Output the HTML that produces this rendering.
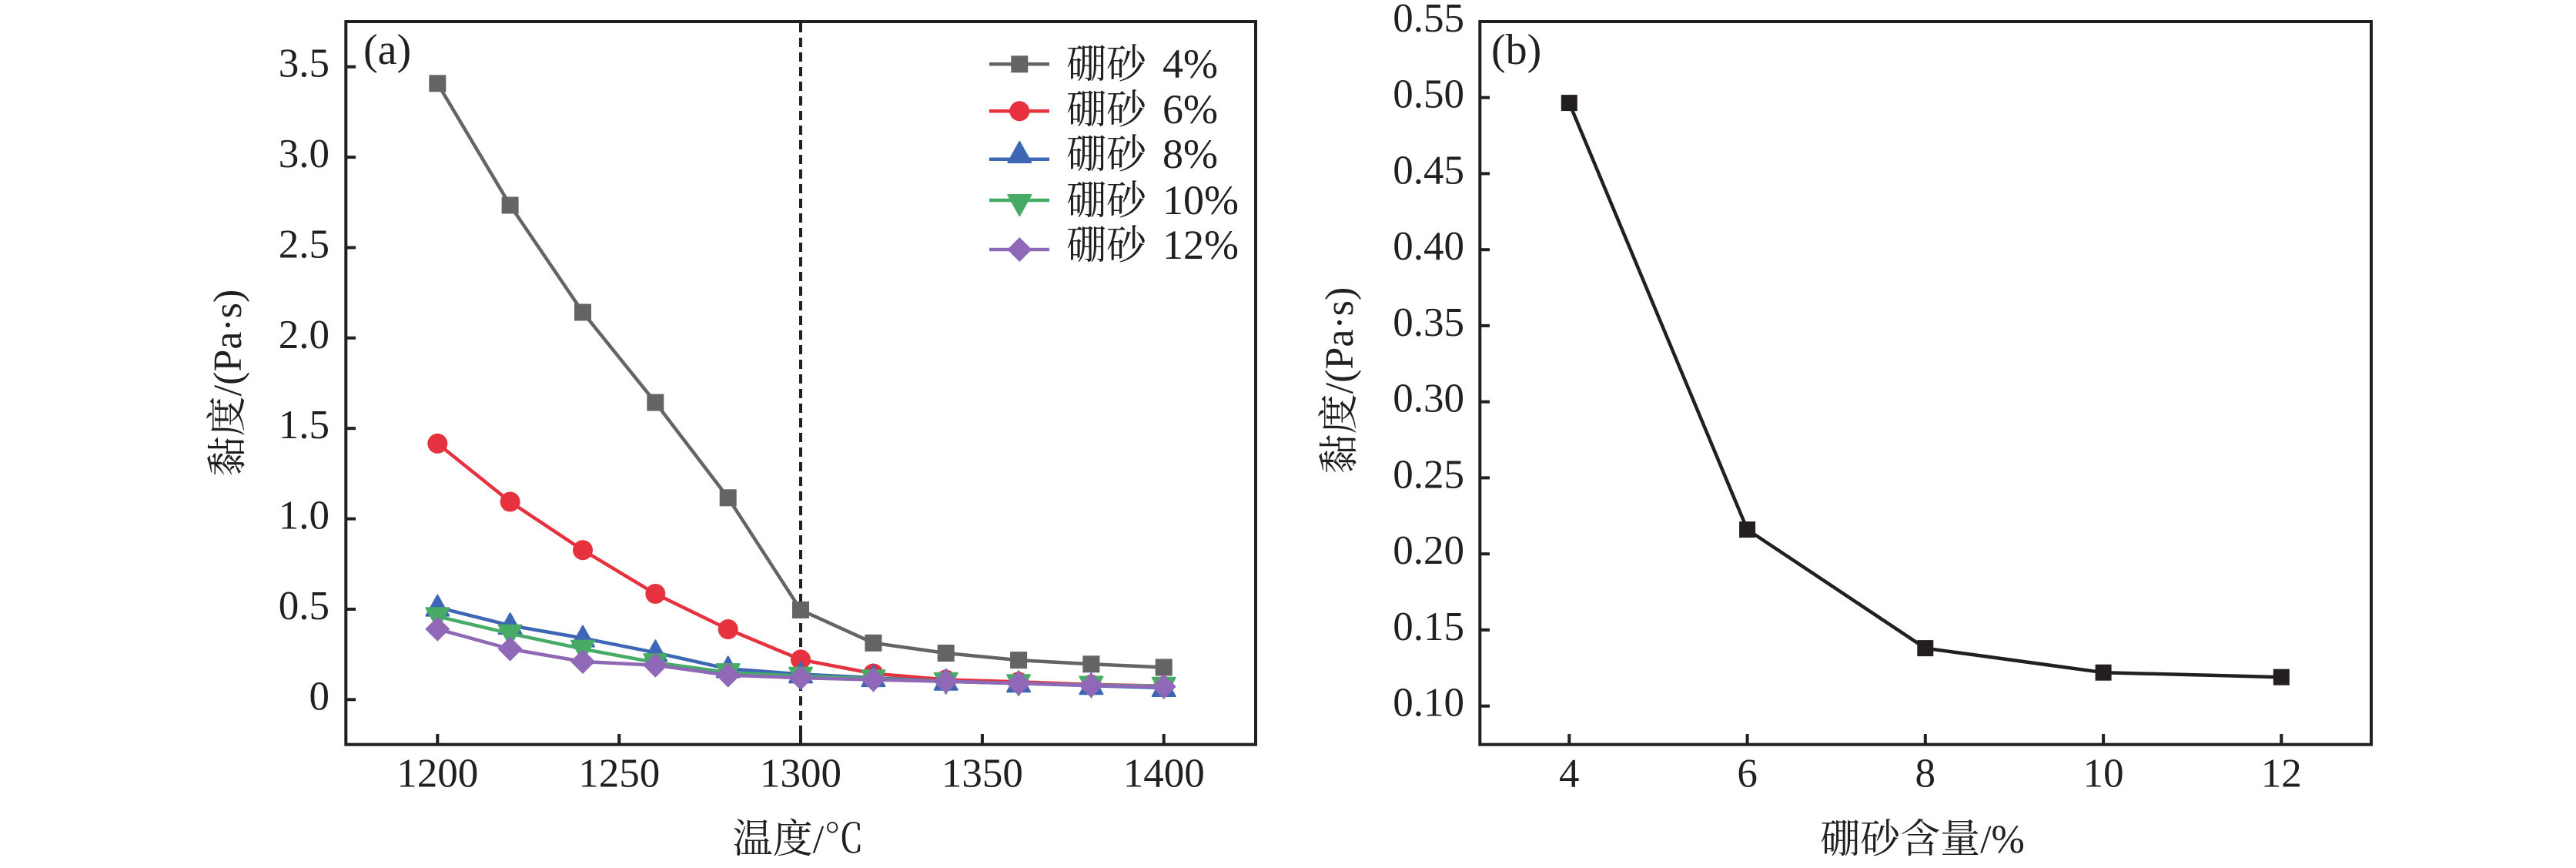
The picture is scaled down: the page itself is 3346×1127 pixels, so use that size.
<!DOCTYPE html>
<html>
<head>
<meta charset="utf-8">
<style>
html,body{margin:0;padding:0;background:#fff;}
svg{display:block;}
.t{font-family:"Liberation Serif","Noto Serif CJK SC",serif;fill:#231f20;}
.cj{font-family:"Liberation Serif","Noto Serif CJK SC",serif;fill:#231f20;}
</style>
</head>
<body>
<svg width="3346" height="1127" viewBox="0 0 3346 1127" xmlns="http://www.w3.org/2000/svg">
<rect x="0" y="0" width="3346" height="1127" fill="#fff"/>
<defs>
  <rect id="sq4" x="-11" y="-11" width="22" height="22" fill="#646464"/>
  <circle id="c6" cx="0" cy="0" r="13" fill="#e5323e"/>
  <polygon id="t8" points="0,-16 15,11 -15,11" fill="#3d66b5" stroke="#3d66b5" stroke-width="2" stroke-linejoin="round"/>
  <polygon id="t10" points="-15,-11 15,-11 0,16" fill="#47ab66" stroke="#47ab66" stroke-width="2" stroke-linejoin="round"/>
  <polygon id="d12" points="0,-16 16,0 0,16 -16,0" fill="#8f68b7"/>
  <rect id="sqb" x="-10.5" y="-10.5" width="21" height="21" fill="#231f20"/>
</defs>

<!-- ================= Plot (a) ================= -->
<line x1="1040" y1="30" x2="1040" y2="965" stroke="#231f20" stroke-width="4" stroke-dasharray="12 7"/>

<polyline fill="none" stroke="#646464" stroke-width="4.5" stroke-linejoin="round"
 points="568.3,108.3 662.6,266.5 757.0,405.5 851.3,522.6 945.7,646.3 1040.0,791.9 1134.4,834.8 1228.7,848.0 1323.1,857.1 1417.4,862.3 1511.7,866.5"/>
<use href="#sq4" x="568.3" y="108.3"/><use href="#sq4" x="662.6" y="266.5"/><use href="#sq4" x="757.0" y="405.5"/><use href="#sq4" x="851.3" y="522.6"/><use href="#sq4" x="945.7" y="646.3"/><use href="#sq4" x="1040.0" y="791.9"/><use href="#sq4" x="1134.4" y="834.8"/><use href="#sq4" x="1228.7" y="848.0"/><use href="#sq4" x="1323.1" y="857.1"/><use href="#sq4" x="1417.4" y="862.3"/><use href="#sq4" x="1511.7" y="866.5"/>

<polyline fill="none" stroke="#e5323e" stroke-width="4.5" stroke-linejoin="round"
 points="568.3,575.9 662.6,651.5 757.0,714.2 851.3,771.0 945.7,817.0 1040.0,856.4 1134.4,874.5 1228.7,882.5 1323.1,885.3 1417.4,888.8 1511.7,890.7"/>
<use href="#c6" x="568.3" y="575.9"/><use href="#c6" x="662.6" y="651.5"/><use href="#c6" x="757.0" y="714.2"/><use href="#c6" x="851.3" y="771.0"/><use href="#c6" x="945.7" y="817.0"/><use href="#c6" x="1040.0" y="856.4"/><use href="#c6" x="1134.4" y="874.5"/><use href="#c6" x="1228.7" y="882.5"/><use href="#c6" x="1323.1" y="885.3"/><use href="#c6" x="1417.4" y="888.8"/><use href="#c6" x="1511.7" y="890.7"/>

<polyline fill="none" stroke="#3d66b5" stroke-width="4.5" stroke-linejoin="round"
 points="568.3,788.6 662.6,812.1 757.0,828.5 851.3,847.3 945.7,868.4 1040.0,875.4 1134.4,880.1 1228.7,884.8 1323.1,887.2 1417.4,890.2 1511.7,893.0"/>
<use href="#t8" x="568.3" y="788.6"/><use href="#t8" x="662.6" y="812.1"/><use href="#t8" x="757.0" y="828.5"/><use href="#t8" x="851.3" y="847.3"/><use href="#t8" x="945.7" y="868.4"/><use href="#t8" x="1040.0" y="875.4"/><use href="#t8" x="1134.4" y="880.1"/><use href="#t8" x="1228.7" y="884.8"/><use href="#t8" x="1323.1" y="887.2"/><use href="#t8" x="1417.4" y="890.2"/><use href="#t8" x="1511.7" y="893.0"/>

<polyline fill="none" stroke="#47ab66" stroke-width="4.5" stroke-linejoin="round"
 points="568.3,800.3 662.6,822.6 757.0,842.6 851.3,860.2 945.7,873.1 1040.0,877.8 1134.4,881.3 1228.7,884.8 1323.1,887.2 1417.4,889.5 1511.7,890.7"/>
<use href="#t10" x="568.3" y="800.3"/><use href="#t10" x="662.6" y="822.6"/><use href="#t10" x="757.0" y="842.6"/><use href="#t10" x="851.3" y="860.2"/><use href="#t10" x="945.7" y="873.1"/><use href="#t10" x="1040.0" y="877.8"/><use href="#t10" x="1134.4" y="881.3"/><use href="#t10" x="1228.7" y="884.8"/><use href="#t10" x="1323.1" y="887.2"/><use href="#t10" x="1417.4" y="889.5"/><use href="#t10" x="1511.7" y="890.7"/>

<polyline fill="none" stroke="#8f68b7" stroke-width="4.5" stroke-linejoin="round"
 points="568.3,816.8 662.6,842.6 757.0,859.0 851.3,863.7 945.7,876.6 1040.0,880.1 1134.4,882.5 1228.7,884.8 1323.1,887.2 1417.4,890.0 1511.7,891.6"/>
<use href="#d12" x="568.3" y="816.8"/><use href="#d12" x="662.6" y="842.6"/><use href="#d12" x="757.0" y="859.0"/><use href="#d12" x="851.3" y="863.7"/><use href="#d12" x="945.7" y="876.6"/><use href="#d12" x="1040.0" y="880.1"/><use href="#d12" x="1134.4" y="882.5"/><use href="#d12" x="1228.7" y="884.8"/><use href="#d12" x="1323.1" y="887.2"/><use href="#d12" x="1417.4" y="890.0"/><use href="#d12" x="1511.7" y="891.6"/>

<rect x="449.3" y="28" width="1181.7" height="938.7" fill="none" stroke="#231f20" stroke-width="4"/>
<g stroke="#231f20" stroke-width="4">
  <line x1="449" y1="908.3" x2="462" y2="908.3"/>
  <line x1="449" y1="791.0" x2="462" y2="791.0"/>
  <line x1="449" y1="673.6" x2="462" y2="673.6"/>
  <line x1="449" y1="556.2" x2="462" y2="556.2"/>
  <line x1="449" y1="438.8" x2="462" y2="438.8"/>
  <line x1="449" y1="321.5" x2="462" y2="321.5"/>
  <line x1="449" y1="204.1" x2="462" y2="204.1"/>
  <line x1="449" y1="86.7" x2="462" y2="86.7"/>
  <line x1="568.3" y1="967" x2="568.3" y2="953"/>
  <line x1="804.2" y1="967" x2="804.2" y2="953"/>
  <line x1="1040" y1="967" x2="1040" y2="953"/>
  <line x1="1275.9" y1="967" x2="1275.9" y2="953"/>
  <line x1="1511.7" y1="967" x2="1511.7" y2="953"/>
</g>
<g class="t" font-size="53" text-anchor="end">
  <text x="428" y="921.3">0</text>
  <text x="428" y="804.0">0.5</text>
  <text x="428" y="686.6">1.0</text>
  <text x="428" y="569.2">1.5</text>
  <text x="428" y="451.8">2.0</text>
  <text x="428" y="334.5">2.5</text>
  <text x="428" y="217.1">3.0</text>
  <text x="428" y="99.7">3.5</text>
</g>
<g class="t" font-size="53" text-anchor="middle">
  <text x="568.3" y="1021.7">1200</text>
  <text x="804.2" y="1021.7">1250</text>
  <text x="1040" y="1021.7">1300</text>
  <text x="1275.9" y="1021.7">1350</text>
  <text x="1511.7" y="1021.7">1400</text>
</g>
<text class="t" x="472" y="83" font-size="56">(a)</text>

<!-- legend (a) -->
<g stroke-width="4.5">
  <line x1="1285" y1="83.3" x2="1363" y2="83.3" stroke="#646464"/>
  <line x1="1285" y1="144.3" x2="1363" y2="144.3" stroke="#e5323e"/>
  <line x1="1285" y1="206.7" x2="1363" y2="206.7" stroke="#3d66b5"/>
  <line x1="1285" y1="260" x2="1363" y2="260" stroke="#47ab66"/>
  <line x1="1285" y1="324" x2="1363" y2="324" stroke="#8f68b7"/>
</g>
<use href="#sq4" x="1324.3" y="83.3"/>
<use href="#c6" x="1324.3" y="144.3"/>
<use href="#t8" x="1324.3" y="200"/>
<use href="#t10" x="1324.3" y="264"/>
<use href="#d12" x="1324.3" y="324"/>
<g class="cj" font-size="52">
  <text x="1385" y="101">硼砂<tspan x="1510" font-size="54">4%</tspan></text>
  <text x="1385" y="160">硼砂<tspan x="1510" font-size="54">6%</tspan></text>
  <text x="1385" y="218">硼砂<tspan x="1510" font-size="54">8%</tspan></text>
  <text x="1385" y="278">硼砂<tspan x="1510" font-size="54">10%</tspan></text>
  <text x="1385" y="336">硼砂<tspan x="1510" font-size="54">12%</tspan></text>
</g>

<text class="cj" x="1037" y="1107" font-size="52" text-anchor="middle">温度/℃</text>
<text class="cj" x="313" y="497" font-size="52" text-anchor="middle" transform="rotate(-90 313 497)">黏度/(Pa·s)</text>

<!-- ================= Plot (b) ================= -->
<polyline fill="none" stroke="#231f20" stroke-width="4.5" stroke-linejoin="round"
 points="2038.3,133.6 2269.6,687.6 2500.8,841.6 2732.1,873.2 2963.3,879.2"/>
<use href="#sqb" x="2038.3" y="133.6"/>
<use href="#sqb" x="2269.6" y="687.6"/>
<use href="#sqb" x="2500.8" y="841.6"/>
<use href="#sqb" x="2732.1" y="873.2"/>
<use href="#sqb" x="2963.3" y="879.2"/>

<rect x="1922.3" y="28" width="1157.7" height="938.7" fill="none" stroke="#231f20" stroke-width="4"/>
<g stroke="#231f20" stroke-width="4">
  <line x1="1922" y1="916.7" x2="1935" y2="916.7"/>
  <line x1="1922" y1="817.9" x2="1935" y2="817.9"/>
  <line x1="1922" y1="719.2" x2="1935" y2="719.2"/>
  <line x1="1922" y1="620.4" x2="1935" y2="620.4"/>
  <line x1="1922" y1="521.7" x2="1935" y2="521.7"/>
  <line x1="1922" y1="422.9" x2="1935" y2="422.9"/>
  <line x1="1922" y1="324.2" x2="1935" y2="324.2"/>
  <line x1="1922" y1="225.4" x2="1935" y2="225.4"/>
  <line x1="1922" y1="126.7" x2="1935" y2="126.7"/>
  <line x1="2038.3" y1="967" x2="2038.3" y2="953"/>
  <line x1="2269.6" y1="967" x2="2269.6" y2="953"/>
  <line x1="2500.8" y1="967" x2="2500.8" y2="953"/>
  <line x1="2732.1" y1="967" x2="2732.1" y2="953"/>
  <line x1="2963.3" y1="967" x2="2963.3" y2="953"/>
</g>
<g class="t" font-size="53" text-anchor="end">
  <text x="1902" y="929.7">0.10</text>
  <text x="1902" y="830.9">0.15</text>
  <text x="1902" y="732.2">0.20</text>
  <text x="1902" y="633.4">0.25</text>
  <text x="1902" y="534.7">0.30</text>
  <text x="1902" y="435.9">0.35</text>
  <text x="1902" y="337.2">0.40</text>
  <text x="1902" y="238.4">0.45</text>
  <text x="1902" y="139.7">0.50</text>
  <text x="1902" y="40.9">0.55</text>
</g>
<g class="t" font-size="53" text-anchor="middle">
  <text x="2038.3" y="1021.7">4</text>
  <text x="2269.6" y="1021.7">6</text>
  <text x="2500.8" y="1021.7">8</text>
  <text x="2732.1" y="1021.7">10</text>
  <text x="2963.3" y="1021.7">12</text>
</g>
<text class="t" x="1937" y="83" font-size="56">(b)</text>

<text class="cj" x="2497" y="1107" font-size="52" text-anchor="middle">硼砂含量/%</text>
<text class="cj" x="1757" y="494" font-size="52" text-anchor="middle" transform="rotate(-90 1757 494)">黏度/(Pa·s)</text>
</svg>
</body>
</html>
